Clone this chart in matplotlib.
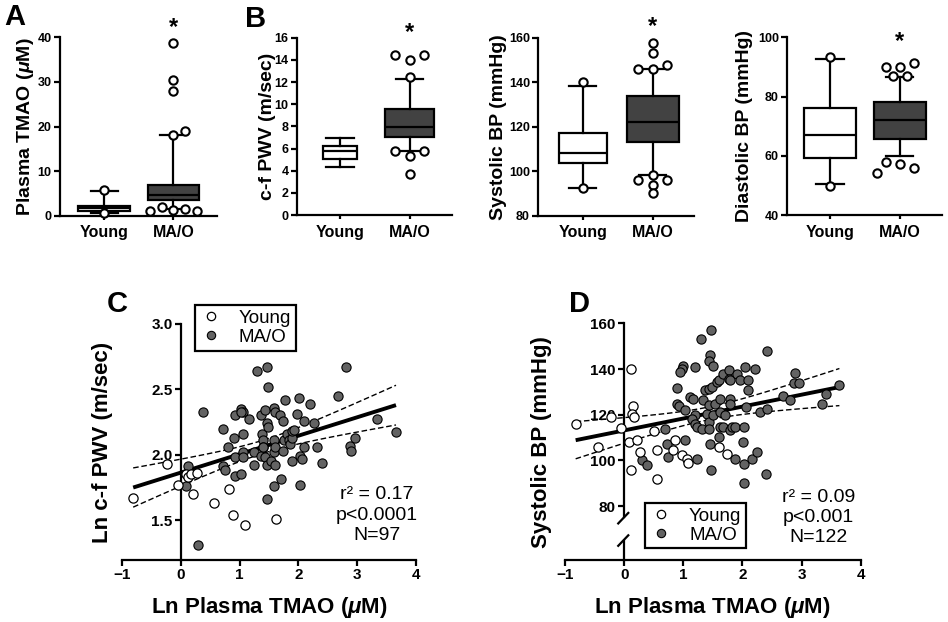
import numpy as np
import matplotlib
matplotlib.use('Agg')
import matplotlib.pyplot as plt
from matplotlib.lines import Line2D

plt.rcParams['font.family'] = ['Liberation Sans', 'DejaVu Sans']
plt.rcParams['font.weight'] = 'bold'
plt.rcParams['mathtext.fontset'] = 'custom'
plt.rcParams['mathtext.rm'] = 'Liberation Sans:bold'
plt.rcParams['mathtext.it'] = 'Liberation Sans:italic:bold'
plt.rcParams['mathtext.bf'] = 'Liberation Sans:bold'

#--------------------------------------------------------------------
# Data

groups = ['Young', 'MA/O']

# panel A, plasma TMAO (uM): whislo, q1, med, q3, whishi
tmao_young = [0.54, 1.12, 1.66, 2.24, 5.6]
tmao_mao = [1.6, 3.5, 4.6, 6.9, 18.1]
tmao_young_out = [5.7, 0.5]
tmao_young_dx = [0, 0]
tmao_mao_out = [38.7, 30.5, 27.9, 18.1, 19.1, 1.1, 2.0, 1.3, 1.5, 1.1]
tmao_mao_dx = [0, 0, 0, 0, 0.17, -0.34, -0.17, 0, 0.17, 0.34]

# panel B, c-f PWV (m/sec)
pwv_young = [4.36, 5.08, 5.8, 6.25, 6.98]
pwv_mao = [5.8, 7.07, 7.94, 9.6, 12.27]
pwv_young_out = []
pwv_young_dx = []
pwv_mao_out = [14.4, 13.96, 14.45, 12.43, 5.8, 5.8, 5.32, 3.7]
pwv_mao_dx = [-0.21, 0, 0.2, 0, -0.21, 0.2, 0, 0]

# systolic BP (mmHg)
sbp_young = [92.6, 103.9, 108.2, 117.3, 138.4]
sbp_mao = [98.5, 113.3, 122.0, 133.8, 145.9]
sbp_young_out = [140.2, 92.3]
sbp_young_dx = [0, 0]
sbp_mao_out = [157.5, 153.3, 146.0, 146.0, 147.7, 96.2, 98.5, 96.2, 94.0, 90.3]
sbp_mao_dx = [0, 0, -0.21, 0, 0.2, -0.21, 0, 0.2, 0, 0]

# diastolic BP (mmHg)
dbp_young = [50.6, 59.4, 67.0, 76.3, 92.6]
dbp_mao = [60.1, 65.6, 72.1, 78.1, 86.7]
dbp_young_out = [93.3, 50.0]
dbp_young_dx = [0, 0]
dbp_mao_out = [90.1, 90.1, 91.2, 86.9, 86.9, 58.1, 57.2, 56.1, 54.2]
dbp_mao_dx = [-0.2, 0, 0.2, -0.1, 0.1, -0.2, 0, 0.2, -0.33]

# panel C, ln TMAO vs ln c-f PWV
c_young_x = [-0.81, -0.23, -0.05, 0.09, 0.13, 0.18, 0.28, 0.21, 0.57, 0.82, 0.89, 1.09, 1.62]
c_young_y = [1.67, 1.93, 1.77, 1.85, 1.83, 1.85, 1.86, 1.70, 1.63, 1.74, 1.54, 1.46, 1.51]
c_mao_x = [0.38, 0.29, 0.13, 0.08, 0.71, 0.81, 0.71, 0.76, 0.90, 0.93, 0.92, 1.02, 1.02, 0.93,
           1.05, 1.05, 1.05, 1.06, 1.16, 1.24, 1.24, 1.30, 1.47, 1.49, 1.36, 1.44, 1.38, 1.40,
           1.40, 1.36, 1.44, 1.47, 1.53, 1.58, 1.58, 1.47, 1.49, 1.46, 1.58, 1.58, 1.60, 1.61,
           1.61, 1.69, 1.71, 1.75, 1.73, 1.73, 1.78, 1.81, 1.84, 1.86, 1.89, 1.89, 1.92, 1.89,
           2.03, 2.01, 1.98, 2.03, 2.06, 2.09, 2.09, 2.20, 2.26, 2.32, 2.40, 2.68, 2.81, 2.88,
           2.90, 2.97, 3.33, 3.66, 1.02, 1.40]
c_mao_y = [2.33, 1.31, 1.91, 1.76, 2.20, 2.06, 1.91, 1.88, 2.13, 1.98, 1.84, 1.85, 2.35, 2.30,
           2.33, 2.16, 2.02, 1.98, 2.27, 2.02, 1.92, 2.64, 2.67, 2.52, 2.30, 2.34, 2.16, 2.11,
           2.06, 1.99, 1.98, 1.92, 1.95, 2.02, 2.11, 2.24, 2.21, 1.66, 1.76, 2.36, 2.33, 1.92,
           2.06, 2.30, 1.81, 2.11, 2.03, 2.26, 2.42, 2.16, 2.11, 2.08, 2.13, 2.18, 2.19, 1.95,
           1.77, 2.43, 2.31, 1.99, 1.97, 2.06, 2.26, 2.39, 2.24, 2.06, 1.94, 2.45, 2.67, 2.07,
           2.03, 2.13, 2.27, 2.17, 2.33, 2.06]
c_stats = 'r² = 0.17\np<0.0001\nN=97'

# panel D, ln TMAO vs systolic BP
d_young_x = [-0.82, -0.45, -0.23, -0.05, 0.11, 0.15, 0.13, 0.17, 0.08, 0.12, 0.21, 0.26, 0.51,
             0.55, 0.55, 0.86, 0.82, 0.98, 1.06, 1.08, 1.60, 1.74]
d_young_y = [115.8, 105.8, 119.0, 114.2, 139.9, 123.8, 120.4, 119.0, 108.0, 95.6, 108.8, 103.6,
             112.7, 104.7, 91.7, 108.8, 104.4, 102.2, 100.7, 99.0, 105.8, 102.9]
d_mao_x = [1.47, 1.30, 1.46, 1.43, 1.51, 2.41, 1.00, 0.98, 0.95, 1.20, 0.89, 0.89, 0.92, 1.03,
           1.12, 1.16, 1.20, 1.15, 1.20, 1.23, 1.03, 1.23, 0.75, 0.72, 0.69, 0.30, 0.38, 1.31,
           1.34, 1.37, 1.43, 1.48, 1.40, 1.43, 1.43, 1.44, 1.51, 1.54, 1.57, 1.60, 1.62, 1.62,
           1.62, 1.68, 1.71, 1.68, 1.77, 1.77, 1.79, 1.79, 1.79, 1.79, 1.82, 1.88, 1.91, 1.96,
           2.02, 2.05, 2.09, 2.10, 2.30, 2.41, 2.87, 2.95, 1.60, 1.46, 1.47, 1.88, 2.01, 2.02,
           2.02, 2.06, 2.16, 2.22, 2.25, 2.40, 2.69, 2.80, 2.89, 3.34, 3.42, 3.64]
d_mao_y = [157.2, 153.0, 146.3, 143.4, 141.2, 147.9, 141.2, 140.2, 138.7, 140.9, 131.8, 124.8,
           123.7, 121.9, 127.7, 127.0, 119.7, 118.3, 116.1, 114.6, 108.8, 100.7, 101.5, 107.3,
           113.9, 100.0, 97.8, 113.9, 126.3, 130.7, 131.4, 132.1, 120.4, 124.1, 116.8, 113.9,
           119.7, 124.8, 134.3, 135.0, 127.0, 121.2, 114.6, 114.6, 119.7, 138.0, 139.4, 135.8,
           135.0, 127.0, 124.8, 113.1, 114.6, 114.6, 138.0, 135.0, 114.6, 140.9, 135.0, 130.7,
           121.2, 122.3, 133.9, 133.9, 110.2, 107.3, 95.6, 100.7, 108.0, 98.5, 90.1, 123.4,
           100.7, 139.9, 103.6, 93.9, 128.0, 126.3, 138.2, 124.8, 128.9, 132.8]
d_stats = 'r² = 0.09\np<0.001\nN=122'

#--------------------------------------------------------------------
mao_gray = '#424242'
dot_gray = '#636363'
lw = 1.6


def box_panel(ax, young, mao, outs, widths, xlim, ylim, yticks, ylabel, lab_x, star_y):
    keys = ['whislo', 'q1', 'med', 'q3', 'whishi']
    stats = [dict(zip(keys, young)), dict(zip(keys, mao))]
    bp = ax.bxp(stats, positions=[1, 2], widths=widths, patch_artist=True,
                showfliers=False, capwidths=[0.39, 0.39],
                boxprops=dict(linewidth=lw, edgecolor='black'),
                medianprops=dict(linewidth=lw, color='black'),
                whiskerprops=dict(linewidth=lw, color='black'),
                capprops=dict(linewidth=lw, color='black'))
    for patch, fc in zip(bp['boxes'], ['white', mao_gray]):
        patch.set_facecolor(fc)
    for pos, (yv, dx) in zip([1, 2], outs):
        ax.plot([pos + d for d in dx], yv, 'o', ms=6, mfc='white', mec='black',
                mew=1.5, clip_on=False, zorder=4)
    ax.text(2, star_y, '*', ha='center', va='center', fontsize=17, fontweight='bold')
    ax.set_xlim(*xlim)
    ax.set_ylim(*ylim)
    ax.set_yticks(yticks)
    ax.set_xticks([1, 2])
    ax.set_xticklabels(groups, fontsize=11.5, fontweight='bold')
    ax.tick_params(axis='y', labelsize=9, length=4, width=lw, pad=2)
    ax.tick_params(axis='x', length=3, width=lw, pad=4)
    for s in ['top', 'right']:
        ax.spines[s].set_visible(False)
    for s in ['left', 'bottom']:
        ax.spines[s].set_linewidth(lw)
    ax.set_ylabel(ylabel, fontsize=14, fontweight='bold')
    ax.yaxis.set_label_coords(lab_x, 0.5)


def fit_band(x, y, xs):
    x = np.asarray(x)
    y = np.asarray(y)
    n = len(x)
    b, a = np.polyfit(x, y, 1)
    s = np.sqrt(np.sum((y - (a + b * x)) ** 2) / (n - 2))
    sxx = np.sum((x - x.mean()) ** 2)
    se = s * np.sqrt(1.0 / n + (xs - x.mean()) ** 2 / sxx)
    yhat = a + b * xs
    return yhat, yhat - 1.985 * se, yhat + 1.985 * se


def scatter_panel(ax, yx, yy, mx, my, stats_txt, stats_pos, leg_pos):
    allx = np.array(yx + mx)
    ally = np.array(yy + my)
    xs = np.linspace(allx.min(), allx.max(), 100)
    yhat, lo, hi = fit_band(allx, ally, xs)
    ax.plot(xs, yhat, color='black', lw=2.8, zorder=2, solid_capstyle='butt')
    ax.plot(xs, lo, color='black', lw=1.0, ls=(0, (4, 2)), zorder=2)
    ax.plot(xs, hi, color='black', lw=1.0, ls=(0, (4, 2)), zorder=2)
    ax.scatter(mx, my, s=44, c=dot_gray, edgecolors='black', linewidths=0.8, zorder=3, clip_on=False)
    ax.scatter(yx, yy, s=44, c='white', edgecolors='black', linewidths=0.9, zorder=3, clip_on=False)
    ax.set_xlim(-1, 4)
    ax.set_xticks([-1, 0, 1, 2, 3, 4])
    ax.spines['left'].set_position(('data', 0))
    for s in ['top', 'right']:
        ax.spines[s].set_visible(False)
    for s in ['left', 'bottom']:
        ax.spines[s].set_linewidth(lw)
    ax.tick_params(labelsize=11, length=4, width=lw, pad=2)
    ax.set_xlabel('Ln Plasma TMAO ($\\mathit{\\mu}$M)', fontsize=16, fontweight='bold')
    ax.xaxis.set_label_coords(0.5, -0.15)
    ax.text(stats_pos[0], stats_pos[1], stats_txt, transform=ax.transAxes, ha='center',
            va='center', fontsize=14, fontweight='normal', linespacing=1.25)
    handles = [Line2D([], [], marker='o', ls='', ms=6, mfc='white', mec='black', mew=0.9),
               Line2D([], [], marker='o', ls='', ms=6, mfc=dot_gray, mec='black', mew=0.8)]
    leg = ax.legend(handles, groups, loc='upper left', bbox_to_anchor=leg_pos,
                    fancybox=False, edgecolor='black', framealpha=1, borderaxespad=0,
                    prop=dict(size=13.5, weight='normal'), handlelength=1.2,
                    handletextpad=0.9, borderpad=0.25, labelspacing=0.1)
    leg.get_frame().set_linewidth(1.6)


fig = plt.figure(figsize=(9.48, 6.22), dpi=100)

axA = fig.add_axes([0.0633, 0.6532, 0.1656, 0.2868])
box_panel(axA, tmao_young, tmao_mao,
          [(tmao_young_out, tmao_young_dx), (tmao_mao_out, tmao_mao_dx)],
          [0.75, 0.74], (0.36, 2.63), (0, 40), [0, 10, 20, 30, 40],
          'Plasma TMAO ($\\mathit{\\mu}$M)', -0.155, 42.3)

axB1 = fig.add_axes([0.3130, 0.6543, 0.1635, 0.2850])
box_panel(axB1, pwv_young, pwv_mao,
          [(pwv_young_out, pwv_young_dx), (pwv_mao_out, pwv_mao_dx)],
          [0.48, 0.70], (0.38, 2.6), (0, 16), [0, 2, 4, 6, 8, 10, 12, 14, 16],
          'c-f PWV (m/sec)', -0.135, 16.5)

axB2 = fig.add_axes([0.5678, 0.6532, 0.1642, 0.2862])
box_panel(axB2, sbp_young, sbp_mao,
          [(sbp_young_out, sbp_young_dx), (sbp_mao_out, sbp_mao_dx)],
          [0.69, 0.74], (0.366, 2.59), (80, 160), [80, 100, 120, 140, 160],
          'Systolic BP (mmHg)', -0.2, 165)

axB3 = fig.add_axes([0.8305, 0.6539, 0.1629, 0.2862])
box_panel(axB3, dbp_young, dbp_mao,
          [(dbp_young_out, dbp_young_dx), (dbp_mao_out, dbp_mao_dx)],
          [0.74, 0.75], (0.39, 2.6), (40, 100), [40, 60, 80, 100],
          'Diastolic BP (mmHg)', -0.22, 98.6)

axC = fig.add_axes([0.1287, 0.0997, 0.3101, 0.3794])
scatter_panel(axC, c_young_x, c_young_y, c_mao_x, c_mao_y, c_stats, (0.866, 0.19), (0.248, 1.08))
axC.set_ylim(1.194, 3.0)
axC.set_yticks([1.5, 2.0, 2.5, 3.0])
axC.set_yticklabels(['1.5', '2.0', '2.5', '3.0'])
axC.set_ylabel('Ln c-f PWV (m/sec)', fontsize=16, fontweight='bold')
axC.yaxis.set_label_coords(-0.031, 0.5)

axD = fig.add_axes([0.5960, 0.0997, 0.3119, 0.3805])
scatter_panel(axD, d_young_x, d_young_y, d_mao_x, d_mao_y, d_stats, (0.857, 0.18), (0.2705, 0.242))
axD.set_ylim(56.4, 160)
axD.set_yticks([80, 100, 120, 140, 160])
axD.set_ylabel('Systolic BP (mmHg)', fontsize=16, fontweight='bold')
axD.yaxis.set_label_coords(-0.044, 0.5)
# broken y axis
axD.spines['left'].set_bounds(75.3, 160)
axD.plot([0, 0], [56.4, 64.5], color='black', lw=lw, clip_on=False, zorder=2)
axD.plot([-0.1, 0.07], [72.4, 77.0], color='black', lw=lw, clip_on=False)
axD.plot([-0.1, 0.07], [62.6, 67.2], color='black', lw=lw, clip_on=False)

for lab, x, y in [('A', 0.004, 0.995), ('B', 0.258, 0.992), ('C', 0.113, 0.533), ('D', 0.6, 0.533)]:
    fig.text(x, y, lab, fontsize=21, fontweight='bold', va='top', ha='left')

fig.savefig('out.png', dpi=100)
